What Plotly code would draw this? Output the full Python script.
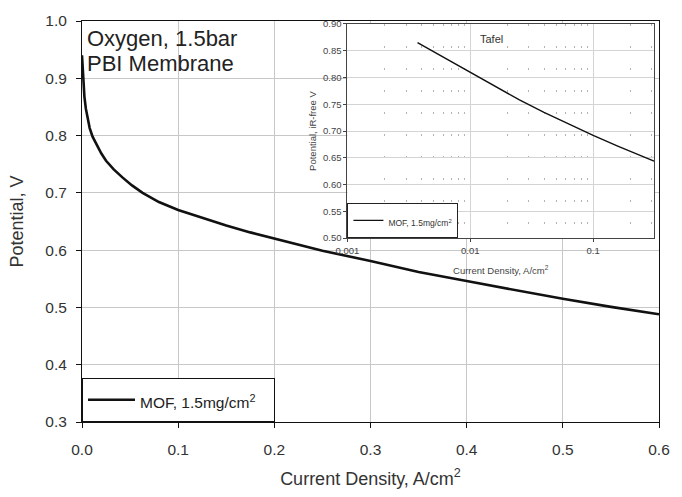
import plotly.graph_objects as go

# Main polarization curve
main_j = [0.0, 0.0007, 0.0014, 0.0025, 0.004, 0.006, 0.008, 0.011, 0.015, 0.02,
          0.025, 0.033, 0.042, 0.052, 0.063, 0.08, 0.1, 0.125, 0.15, 0.175,
          0.2, 0.25, 0.3, 0.35, 0.4, 0.45, 0.5, 0.55, 0.6]
main_v = [0.94, 0.912, 0.892, 0.868, 0.847, 0.828, 0.813, 0.798, 0.784, 0.769,
          0.756, 0.741, 0.727, 0.713, 0.700, 0.684, 0.670, 0.656, 0.643, 0.631,
          0.620, 0.599, 0.581, 0.562, 0.546, 0.530, 0.515, 0.501, 0.488]

# Inset Tafel curve
tafel_j = [0.00372, 0.00631, 0.01, 0.01585, 0.02512, 0.03981, 0.0631, 0.1, 0.1585, 0.2512, 0.313]
tafel_v = [0.865, 0.835, 0.809, 0.783, 0.758, 0.735, 0.713, 0.692, 0.672, 0.653, 0.644]

main_xticks = [0.0, 0.1, 0.2, 0.3, 0.4, 0.5, 0.6]
main_yticks = [0.3, 0.4, 0.5, 0.6, 0.7, 0.8, 0.9, 1.0]
inset_xticks = [0.001, 0.01, 0.1]
inset_xticktext = ["0.001", "0.01", "0.1"]
inset_yticks = [0.50, 0.55, 0.60, 0.65, 0.70, 0.75, 0.80, 0.85, 0.90]

series_label = "MOF, 1.5mg/cm<sup>2</sup>"

FONT = "Liberation Sans, Arial, sans-serif"

main_name = '<span style="font-size:15.5px">' + series_label + '&nbsp;&nbsp;&nbsp;</span>'
inset_name = '<span style="font-size:8.5px">' + series_label + '</span>'

fig = go.Figure()
fig.add_trace(go.Scatter(x=main_j, y=main_v, mode="lines", name=main_name,
                         line=dict(color="#111111", width=2.6),
                         xaxis="x", yaxis="y", legend="legend", showlegend=True))
fig.add_trace(go.Scatter(x=tafel_j, y=tafel_v, mode="lines", name=inset_name,
                         line=dict(color="#111111", width=1.4),
                         xaxis="x2", yaxis="y2", legend="legend2", showlegend=True))

fig.update_layout(
    width=682, height=497,
    showlegend=True,
    margin=dict(l=82, r=13, t=17, b=70),
    paper_bgcolor="white", plot_bgcolor="white",
    font=dict(family=FONT, color="#222222"),
    xaxis=dict(domain=[0, 1], range=[0, 0.6], tickvals=main_xticks, tickformat=".1f",
               showgrid=True, gridcolor="#c8c8c8", gridwidth=1, zeroline=False,
               showline=True, linecolor="#111111", linewidth=1, mirror=True,
               ticks="outside", ticklen=5, tickcolor="#111111", ticklabelstandoff=8,
               tickfont=dict(size=15.5, color="#333333"),
               title=dict(text="Current Density, A/cm<sup>2</sup>", font=dict(size=18, color="#333333"), standoff=15)),
    yaxis=dict(domain=[0, 1], range=[0.3, 1.0], tickvals=main_yticks, tickformat=".1f",
               showgrid=True, gridcolor="#c8c8c8", gridwidth=1, zeroline=False,
               showline=True, linecolor="#111111", linewidth=1, mirror=True,
               ticks="outside", ticklen=5, tickcolor="#111111", ticklabelstandoff=6,
               tickfont=dict(size=15.5, color="#333333"),
               title=dict(text="Potential, V", font=dict(size=18, color="#333333"), standoff=17)),
    xaxis2=dict(domain=[0.46, 0.9915], anchor="y2", type="log", range=[-3, -0.504],
                tickvals=inset_xticks, ticktext=inset_xticktext,
                showgrid=True, gridcolor="#d4d4d4", gridwidth=1, zeroline=False,
                showline=True, linecolor="#444444", linewidth=1, mirror=True,
                ticks="outside", ticklen=3, tickcolor="#444444",
                tickfont=dict(size=9.5, color="#444444"),
                minor=dict(dtick="D1", showgrid=True, gridcolor="#b4b4b4", gridwidth=1,
                           griddash="2px,20px", ticks=""),
                title=dict(text="Current Density, A/cm<sup>2</sup>", font=dict(size=9.5, color="#444444"), standoff=12)),
    yaxis2=dict(domain=[0.4585, 0.9927], anchor="x2", range=[0.5, 0.9],
                tickvals=inset_yticks, tickformat=".2f",
                showgrid=True, gridcolor="#d4d4d4", gridwidth=1, zeroline=False,
                showline=True, linecolor="#444444", linewidth=1, mirror=True,
                ticks="outside", ticklen=3, tickcolor="#444444",
                tickfont=dict(size=9.5, color="#444444"),
                title=dict(text="Potential, iR-free V", font=dict(size=9.5, color="#444444"), standoff=4)),
    legend=dict(x=0, y=0, xref="paper", yref="paper", xanchor="left", yanchor="bottom",
                bgcolor="white", bordercolor="#111111", borderwidth=1,
                font=dict(size=22, color="#222222"), itemwidth=47, visible=True),
    legend2=dict(x=0.46, y=0.4585, xref="paper", yref="paper", xanchor="left", yanchor="bottom",
                 bgcolor="white", bordercolor="#222222", borderwidth=1,
                 font=dict(size=15, color="#333333"), itemwidth=30, visible=True),
    annotations=[
        dict(text="Oxygen, 1.5bar", xref="paper", yref="paper",
             x=0.005, y=0.956, xanchor="left", yanchor="middle", align="left", showarrow=False,
             font=dict(size=22, color="#222222", family=FONT)),
        dict(text="PBI Membrane", xref="paper", yref="paper",
             x=0.005, y=0.895, xanchor="left", yanchor="middle", align="left", showarrow=False,
             font=dict(size=22, color="#222222", family=FONT)),
        dict(text="Tafel", xref="paper", yref="paper", x=0.71, y=0.956,
             xanchor="center", yanchor="middle", showarrow=False,
             font=dict(size=11, color="#333333", family=FONT)),
    ],
)

fig.write_html("out.html", config={"displayModeBar": False},
               post_script="document.body.style.margin='0';document.body.style.padding='0';")
